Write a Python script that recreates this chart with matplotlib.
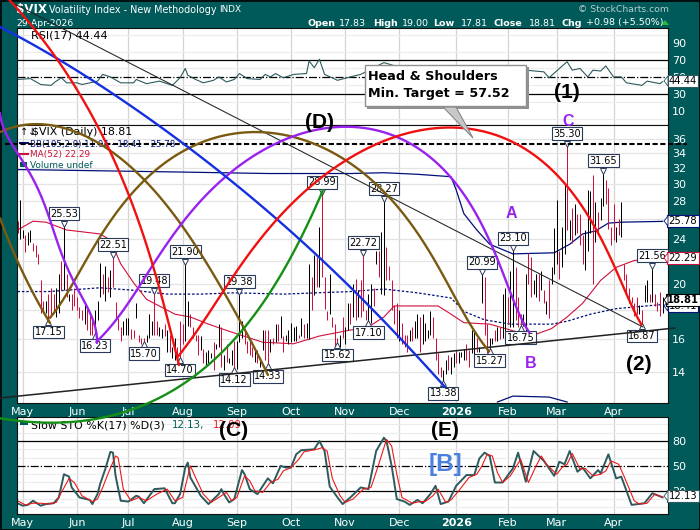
# $VIX daily chart with wave annotations
import numpy as np
import matplotlib
matplotlib.use('Agg')
import matplotlib.pyplot as plt
from matplotlib.patches import Polygon, Rectangle

TEAL = '#005a5a'
NAVY = '#00107a'
CRIMSON = '#d0103c'
LINE = '#2c5a5e'

# daily bars
bar_high = [25.8,28.1,24.9,24.4,24.7,24.9,23.6,23.4,22.6,20.3,
            18.7,18.7,19.2,19.7,19.2,19.7,20.8,22.0,25.53,20.8,
            19.2,19.2,19.7,19.0,18.2,18.0,18.6,18.2,17.7,17.2,
            18.0,18.7,21.8,20.8,21.5,20.6,21.2,22.51,18.6,17.4,
            16.8,17.2,17.4,17.4,16.7,16.6,18.5,16.3,16.1,16.1,
            16.3,17.7,17.2,19.48,17.2,16.8,16.7,17.0,16.6,16.3,
            15.5,16.1,15.5,17.2,17.0,21.90,18.7,17.7,16.8,16.3,
            16.3,16.2,15.4,15.2,15.3,15.1,15.8,15.7,17.0,16.8,
            15.0,15.7,14.8,15.3,15.9,15.9,19.38,17.2,16.6,15.9,
            15.9,15.5,15.4,15.3,14.8,16.6,16.6,16.6,16.0,16.1,
            17.0,17.0,17.6,16.2,16.3,16.6,17.1,16.8,16.9,16.3,
            17.4,17.0,17.1,21.7,20.6,22.5,22.3,25.2,28.99,20.6,
            17.9,20.8,17.5,17.0,16.1,16.3,17.5,16.8,18.5,18.5,
            20.0,20.4,19.5,20.3,22.72,18.0,19.2,20.0,19.7,22.9,
            22.9,24.7,28.27,23.2,21.5,20.3,18.4,18.5,18.0,17.1,
            16.3,16.3,16.6,16.8,17.2,17.7,17.5,17.7,17.1,16.6,
            17.9,17.5,16.1,15.1,14.3,14.1,14.7,15.0,14.9,15.1,
            15.3,15.2,15.2,15.4,15.7,15.3,16.6,16.6,16.1,15.5,
            20.99,20.6,17.0,16.1,16.1,16.6,16.8,16.8,19.2,19.7,
            19.0,21.1,23.10,21.4,19.0,17.7,17.7,20.8,22.7,22.3,
            20.3,20.8,20.8,21.1,19.5,18.7,20.3,21.4,25.1,28.1,
            22.9,25.2,30.0,35.30,25.9,27.2,27.7,26.6,26.6,24.4,
            24.9,29.3,29.1,31.1,27.9,26.8,28.3,31.65,30.5,29.5,
            25.2,27.7,25.2,26.0,27.9,21.7,20.8,19.7,19.0,18.5,
            19.0,18.4,18.0,19.9,20.3,19.2,21.56,19.2,18.6,19.4,19.00]
bar_low = [24.6,24.0,24.1,22.8,23.4,23.7,22.9,22.3,21.7,17.8,
           18.0,17.8,17.15,17.5,17.8,17.5,17.8,19.5,19.5,19.0,
           18.7,18.0,18.3,18.0,17.4,17.3,17.0,16.6,16.3,16.3,
           16.23,17.3,19.0,19.2,18.7,19.4,19.0,19.8,17.3,16.6,
           15.9,16.3,16.3,16.3,16.0,16.1,17.4,15.8,15.7,15.70,
           15.8,16.1,16.3,16.3,16.3,16.2,16.1,16.2,15.2,15.2,
           14.8,14.7,14.7,14.70,15.7,15.9,16.9,16.8,16.1,15.9,
           15.0,15.3,14.5,14.4,14.5,14.8,14.1,15.4,15.5,14.3,
           14.12,14.6,14.5,14.4,14.12,14.2,15.8,16.1,15.7,15.1,
           15.0,14.9,14.6,14.5,14.3,15.3,14.7,14.33,15.2,15.7,
           15.8,15.9,16.1,15.2,15.9,15.7,15.8,15.9,15.9,16.1,
           16.2,16.1,16.1,16.0,18.0,19.1,19.8,19.8,20.6,18.1,
           17.3,17.7,16.8,15.5,15.62,15.5,16.1,15.7,16.6,17.0,
           17.5,17.3,17.5,17.5,17.9,17.3,17.10,17.1,18.3,21.7,
           20.6,19.2,19.1,20.3,20.3,18.0,17.0,16.1,15.9,15.7,
           15.5,15.2,15.9,15.9,16.1,16.1,15.2,15.7,15.9,16.1,
           16.3,16.1,14.7,13.9,13.7,13.38,13.9,14.1,13.9,14.3,
           14.5,14.5,14.9,14.7,14.7,14.3,15.1,14.7,15.2,15.2,
           18.5,16.3,15.1,15.27,15.7,15.9,15.9,16.0,16.1,16.3,
           17.0,16.8,16.8,17.3,16.8,16.75,16.9,16.3,20.0,19.0,
           19.2,19.0,18.7,19.5,18.5,17.7,17.4,20.0,20.8,21.7,
           20.4,21.4,22.6,24.9,23.9,23.6,24.4,24.6,23.4,21.7,
           21.2,22.9,24.6,20.0,23.7,24.6,25.9,27.4,27.7,25.0,
           23.4,23.9,23.7,24.4,24.2,20.3,19.1,18.5,18.5,17.6,
           17.7,17.7,16.87,18.6,18.6,18.6,18.6,18.3,17.9,17.6,17.81]
bar_up = [0,1,1,0,1,1,0,0,0,0, 0,1,0,0,0,1,1,0,1,0,
          1,0,0,0,0,0,1,0,0,0, 1,1,1,0,1,0,1,0,0,0,
          0,1,1,1,0,0,1,0,0,0, 1,1,1,0,0,1,1,0,1,0,
          1,1,0,0,0,1,1,0,0,0, 0,1,0,1,1,1,0,1,1,0,
          1,0,1,1,0,1,1,1,0,0, 0,0,1,0,1,1,0,0,1,0,
          1,0,1,0,1,1,1,1,1,0, 1,0,1,1,0,1,0,1,0,0,
          0,1,0,0,0,1,0,1,1,0, 1,0,1,0,0,0,1,1,0,1,
          0,1,1,0,0,0,0,0,1,0, 0,0,1,0,1,1,0,1,1,1,
          1,0,0,0,0,1,1,0,1,1, 0,1,1,1,0,0,1,1,0,1,
          1,0,0,1,1,0,1,0,1,1, 0,1,1,0,0,0,1,1,0,0,
          1,1,0,1,0,1,0,1,1,1, 0,1,1,0,1,0,1,0,0,0,
          1,1,1,0,1,0,1,1,0,0, 0,0,1,0,1,0,0,0,0,0,
          0,1,0,1,1,0,1,0,0,0,1]

# overlays on the price panel
bb_up_x = [0,2,61,97,129,142,155,168,170,173,178,183,192,208,214,219,224,229,234,250]
bb_up = [31.8,31.8,31.5,31.3,31.3,31.4,31.2,30.9,29.3,26.6,24.9,23.5,22.6,22.7,23.5,24.5,24.8,25.6,25.7,25.78]
bb_mid_x = [0,12,32,45,58,71,84,103,129,142,155,168,173,181,191,207,213,222,232,250]
bb_mid = [19.4,19.4,19.7,19.5,19.2,19.2,19.3,19.2,19.4,19.6,19.3,18.9,17.9,17.3,17.0,17.0,17.2,17.7,18.1,18.41]
bb_low_x = [186,192,206,213]
bb_low = [12.4,12.7,12.65,12.4]
ma_x = [0,6,11,19,32,36,40,45,50,61,67,74,84,95,107,117,129,135,142,146,163,168,173,183,191,199,207,213,219,226,232,239,250]
ma = [24.9,25.8,25.7,24.9,24.5,23.9,21.7,20.1,18.8,17.7,17.5,17.0,16.4,15.8,15.7,16.2,16.6,16.7,17.5,18.3,18.3,17.7,17.1,17.0,16.6,16.2,16.7,17.5,18.5,20.3,21.4,22.0,22.29]

# RSI(17)
rsi_x = [0,5,9,13,15,17,19,23,25,31,33,36,40,45,46,50,55,60,63,65,66,69,72,76,78,81,84,86,89,94,96,98,100,103,107,112,113,115,117,119,124,129,
         133,142,155,168,181,194,197,204,206,210,213,215,218,221,223,226,228,231,234,236,242,244,249,250]
rsi = [47,48,41,40,45,49,43,43,41,45,53,50,43,43,47,42,45,40,49,60,52,47,43,46,50,44,47,54,48,47,53,50,54,49,53,54,69,61,71,53,46,50,
       53,67,55,52,55,60,58,56,49,60,68,58,60,50,58,57,63,50,50,43,40,45,42,44.44]

# slow stochastics
sto_k_x = [0,2,4,6,9,11,14,16,18,20,21,24,28,29,31,32,34,36,37,38,40,43,46,47,49,53,57,60,61,63,65,66,67,71,74,78,79,80,82,84,87,88,90,93,97,99,102,104,106,108,110,115,117,119,121,124,126,129,
           133,136,139,142,143,145,147,150,152,155,157,160,162,164,167,170,174,177,179,181,183,185,188,192,194,197,200,204,208,210,212,214,217,219,222,225,226,229,232,234,238,243,246,250]
sto_k = [5,2,3,8,2,4,5,12,40,37,24,12,9,4,16,28,46,67,66,38,8,7,14,13,5,22,23,5,5,16,48,54,36,14,4,16,22,16,6,10,45,40,22,16,35,29,50,48,48,64,69,70,80,68,25,12,4,12,
         24,22,68,84,80,50,10,7,3,9,5,16,26,4,7,26,39,39,59,66,62,30,30,47,66,31,68,56,38,55,52,68,43,48,35,45,41,64,35,37,3,5,17,12.13]
sto_d_x = [0,3,6,9,12,15,17,20,22,25,29,31,33,35,38,39,41,44,47,50,54,58,61,64,67,69,72,75,79,81,83,85,88,90,92,95,98,101,103,106,109,111,116,118,120,122,125,127,130,
           134,137,140,143,145,147,149,153,156,158,161,163,166,168,171,175,178,180,182,184,186,188,191,193,195,198,201,203,205,209,211,213,215,218,220,223,226,228,230,233,235,239,241,244,247,250]
sto_d = [8,3,5,5,4,6,18,35,30,14,7,10,24,40,62,60,22,8,12,8,16,22,8,12,50,36,16,6,14,18,8,12,38,32,20,18,30,34,44,48,58,67,70,72,68,35,14,6,10,
         22,24,52,82,74,40,12,5,7,7,14,22,6,9,20,36,40,50,64,62,42,30,38,48,58,30,50,62,52,40,48,52,65,46,47,38,40,44,56,52,38,8,4,5,16,12.09]

month_idx = [2,23,43,64,85,106,127,148,170,190,209,231]
month_names = ['May','Jun','Jul','Aug','Sep','Oct','Nov','Dec','2026','Feb','Mar','Apr']
price_ticks = [14,16,18,20,22,24,26,28,30,32,34,36]
price_tick_labels = ['14','16','','20','','24','','28','30','32','34','36']

high_idx = [18,37,53,65,86,118,134,142,180,192,213,227,246]
high_val = [25.53,22.51,19.48,21.90,19.38,28.99,22.72,28.27,20.99,23.10,35.30,31.65,21.56]
low_idx = [12,30,49,63,84,97,124,136,165,183,195,242]
low_val = [17.15,16.23,15.70,14.70,14.12,14.33,15.62,17.10,13.38,15.27,16.75,16.87]

# hand drawn arcs, figure pixels
red_a = [(10,0),(33,30),(60,60),(83,100),(100,133),(118,170),(133,203),(153,267),(167,317),(179,365)]
red_b = [(179,358),(203,317),(233,273),(282,222),(333,170),(398,135),(450,123),(490,130),(520,147),(550,170),(570,193),(590,218),(615,267),(627,297),(643,327)]
blue_a = [(0,27),(60,60),(117,97),(183,143),(230,180),(280,222),(350,287),(380,317),(413,352),(445,387)]
brown_a = [(0,132),(33,125),(67,128),(110,150),(133,170),(183,227),(223,290),(243,327),(268,375)]
brown_b = [(0,218),(17,260),(50,323)]
brown_c = [(50,320),(73,277),(103,233),(130,200),(160,170),(193,145),(250,128),(300,133),(350,170),(383,193),(417,230),(450,290),(477,330),(488,353)]
purple_a = [(0,113),(20,157),(28,170),(50,220),(73,280),(97,343)]
purple_b = [(97,343),(137,283),(183,225),(230,180),(283,140),(333,123),(350,123),(393,133),(417,147),(442,170),(453,187),(493,247),(513,297),(530,335)]
green_a = [(0,418),(33,423),(67,422),(100,417),(138,408),(190,380),(233,340),(267,297),(300,240),(323,190)]


def smooth(pts, deg=5):
    pts = np.array(pts, dtype=float)
    t = np.r_[0, np.cumsum(np.hypot(*np.diff(pts, axis=0).T))]
    t = t / t[-1]
    deg = min(deg, len(pts) - 1)
    tt = np.linspace(0, 1, 120)
    return np.polyval(np.polyfit(t, pts[:, 0], deg), tt), np.polyval(np.polyfit(t, pts[:, 1], deg), tt)


def panel(rect_px, ylim):
    l, t, r, b = rect_px
    ax = fig.add_axes([l / 700, 1 - b / 530, (r - l) / 700, (b - t) / 530])
    ax.set_xlim(-0.2, 252.1)
    ax.set_ylim(*ylim)
    ax.set_xticks(month_idx)
    ax.grid(axis='x', color='#d4d4d4', lw=0.9)
    ax.set_axisbelow(True)
    ax.yaxis.tick_right()
    ax.tick_params(axis='both', colors='white', length=0, labelsize=8, pad=3)
    for s in ax.spines.values():
        s.set_color('#101010')
        s.set_linewidth(0.8)
    return ax


fig = plt.figure(figsize=(7, 5.3), dpi=100, facecolor=TEAL)

# RSI panel
ax1 = panel((17, 28, 668, 125), (-7, 108))
ax1.set_xticklabels([])
ax1.set_yticks([10,30,50,70,90])
ax1.set_yticks(range(0, 101, 10), minor=True)
ax1.tick_params(axis='y', which='minor', length=0)
ax1.grid(axis='y', which='minor', color='#ececec', lw=0.8)
ax1.axhline(70, color='black', lw=0.9)
ax1.axhline(50, color='black', lw=0.9, ls='-.')
ax1.axhline(30, color='black', lw=0.9)
ax1.plot(rsi_x, rsi, color=LINE, lw=0.8)

# price panel
ax2 = panel((17, 125, 668, 403), (12.35, 38.1))
ax2.set_yscale('log')
ax2.set_yticks(price_ticks)
ax2.set_yticklabels(price_tick_labels)
ax2.minorticks_off()
ax2.grid(axis='y', color='#e4e4e4', lw=0.9)
ax2.set_xticklabels(month_names)
ax2.get_xticklabels()[8].set_fontweight('bold')
ax2.plot(bb_up_x, bb_up, color=NAVY, lw=0.9)
ax2.plot(bb_mid_x, bb_mid, color=NAVY, lw=0.9, ls=(0, (2, 1.5)))
ax2.plot(bb_low_x, bb_low, color=NAVY, lw=0.9)
ax2.plot(ma_x, ma, color=CRIMSON, lw=0.8)
idx = np.arange(len(bar_high))
colors = ['black' if u else CRIMSON for u in bar_up]
bars = ax2.vlines(idx, bar_low, bar_high, colors=colors, lw=0.72)
bars.set_snap(True)

for i, v in zip(high_idx, high_val):
    ax2.plot(i, v, marker='v', ms=5, mfc='white', mec='#2a3a5a', mew=0.7, zorder=4)
    ax2.annotate(f'{v:.2f}', (i, v), xytext=(0, 10), textcoords='offset pixels', ha='center', va='center',
                 fontsize=7, zorder=5,
                 bbox=dict(boxstyle='square,pad=0.15', fc='white', ec='#2a3a5a', lw=0.8))
for i, v in zip(low_idx, low_val):
    ax2.plot(i, v, marker='^', ms=5, mfc='white', mec='#2a3a5a', mew=0.7, zorder=4)
    ax2.annotate(f'{v:.2f}', (i, v), xytext=(0, -10), textcoords='offset pixels', ha='center', va='center',
                 fontsize=7, zorder=5,
                 bbox=dict(boxstyle='square,pad=0.15', fc='white', ec='#2a3a5a', lw=0.8))

# stochastics panel
ax3 = panel((17, 417, 668, 514), (-8, 109))
ax3.set_xticklabels(month_names)
ax3.get_xticklabels()[8].set_fontweight('bold')
ax3.set_yticks([20,50,80])
ax3.set_yticks(range(0, 101, 10), minor=True)
ax3.tick_params(axis='y', which='minor', length=0)
ax3.grid(axis='y', which='minor', color='#ececec', lw=0.8)
ax3.axhline(80, color='black', lw=0.9)
ax3.axhline(50, color='black', lw=0.9, ls='-.')
ax3.axhline(20, color='black', lw=0.9)
ax3.plot(sto_k_x, sto_k, color=LINE, lw=1.4)
ax3.plot(sto_d_x, sto_d, color='#f01818', lw=0.8)

# everything drawn by hand on top of the chart
top = fig.add_axes([0, 0, 1, 1], zorder=10)
top.set_xlim(0, 700)
top.set_ylim(530, 0)
top.axis('off')
top.patch.set_alpha(0)
top.add_patch(Rectangle((0.5, 0.5), 699, 529, fc='none', ec='black', lw=1.2))

# header
top.text(16, 10, '$VIX', color='white', fontsize=8.6, fontweight='bold', va='center')
top.text(49, 10, 'Volatility Index - New Methodology', color='white', fontsize=6.9, va='center')
top.text(219, 10, 'INDX', color='white', fontsize=6.4, va='center')
top.text(16, 23, '29-Apr-2026', color='white', fontsize=6.7, va='center')
top.text(578, 10, '\u00a9 StockCharts.com', color='#b8cccc', fontsize=6.7, va='center')
head = [(308,'Open',1),(339,'17.83',0),(373,'High',1),(402,'19.00',0),(433,'Low',1),(461,'17.81',0),
        (493,'Close',1),(529,'18.81',0),(561,'Chg',1),(586,'+0.98 (+5.50%)',0)]
for x, s, b in head:
    top.text(x, 23, s, color='white', fontsize=6.8, va='center', fontweight='bold' if b else 'normal')
top.add_patch(Polygon([(661,25),(669,25),(665,20)], fc='#22bb33', ec='none'))

# legends
top.text(31, 35, 'RSI(17) 44.44', color='black', fontsize=8, va='center', zorder=1)
top.text(32, 132, '$VIX (Daily) 18.81', color='black', fontsize=7.9, va='center', zorder=1)
top.text(20, 132, '\u2191\u2193', color='black', fontsize=7, va='center', zorder=1)
top.text(30, 144, 'BB(105,2.0) 11.04 - 18.41 - 25.78', color=NAVY, fontsize=6.2, va='center', zorder=1)
top.text(30, 154, 'MA(52) 22.29', color=CRIMSON, fontsize=6.4, va='center', zorder=1)
top.text(30, 165, 'Volume undef', color=TEAL, fontsize=6.5, va='center', zorder=1)
top.plot([20,28], [143,143], color=NAVY, lw=1.5, zorder=1)
top.plot([20,28], [154,154], color=CRIMSON, lw=1.5, zorder=1)
top.add_patch(Rectangle((20, 162), 7, 5, fc=TEAL, ec='none', zorder=1))
top.add_patch(Rectangle((20, 422), 8, 3, fc=TEAL, ec='none', zorder=1))
top.text(31, 425, 'Slow STO %K(17) %D(3)', color='black', fontsize=7.9, va='center', zorder=1)
top.text(172, 425, '12.13,', color=TEAL, fontsize=7.4, va='center', zorder=1)
top.text(213, 425, '12.09', color='#f01818', fontsize=7.4, va='center', zorder=1)

# trend lines and arcs
top.plot([0,675], [398,328], color='#222222', lw=1.1, zorder=3)
top.plot([7,643], [0,327], color='#222222', lw=0.75, zorder=3)
top.plot([5,687], [144,144], color='black', lw=1.5, ls=(0, (2.5, 1.2)), zorder=3)
for pts, col in [(brown_b,'#7a5a10'),(brown_a,'#7a5a10'),(brown_c,'#7a5a10'),
                 (purple_a,'#9a22ee'),(purple_b,'#9a22ee'),(green_a,'#159015'),
                 (blue_a,'#1430e0'),(red_a,'#f01010'),(red_b,'#f01010')]:
    xs, ys = smooth(pts)
    top.plot(xs, ys, color=col, lw=1.7, zorder=3, solid_capstyle='round')

# value flags on the right
flags = [(683,81,'44.44','#2c5a5e','normal'),(683,221,'25.78',NAVY,'normal'),(683,258,'22.29',CRIMSON,'normal'),
         (683,306,'18.41',NAVY,'normal'),(683,300,'18.81','black','bold'),(683,496,'12.13',LINE,'normal')]
for x, y, s, c, w in flags:
    top.text(x, y, s, color='black', fontsize=7.2, fontweight=w, ha='center', va='center', zorder=4,
             bbox=dict(boxstyle='square,pad=0.12', fc='white', ec=c, lw=0.8))
    top.add_patch(Polygon([(x-15,y-5),(x-15,y+5),(x-19,y)], fc='white', ec=c, lw=0.6, zorder=4))

# callout
top.add_patch(Rectangle((367, 67), 162, 42, fc='#909090', ec='none', zorder=5))
top.add_patch(Polygon([(443,107),(456,107),(473,138)], fc='#c8c8c8', ec='#888888', lw=0.8, zorder=5))
top.add_patch(Rectangle((365, 65), 161, 41, fc='white', ec='#909090', lw=1, zorder=6))
top.text(368, 76, 'Head & Shoulders', fontsize=9.2, fontweight='bold', va='center', zorder=7)
top.text(368, 94, 'Min. Target = 57.52', fontsize=9.2, fontweight='bold', va='center', zorder=7)

# wave labels
for x, y, s in [(319,123,'(D)'),(567,93,'(1)'),(639,364,'(2)'),(234,430,'(C)'),(445,430,'(E)')]:
    top.text(x, y, s, fontsize=15, fontweight='bold', ha='center', va='center', family='Liberation Sans', zorder=7)
top.text(445, 464, '[B]', fontsize=17.5, fontweight='bold', color='#4a80e0', ha='center', va='center', family='Liberation Sans', zorder=7)
for x, y, s in [(568,121,'C'),(511,214,'A'),(531,364,'B')]:
    top.text(x, y, s, fontsize=11.5, fontweight='bold', color='#9a22ee', ha='center', va='center', family='Liberation Sans', zorder=7)

fig.savefig('out.png', dpi=100, facecolor=TEAL)
